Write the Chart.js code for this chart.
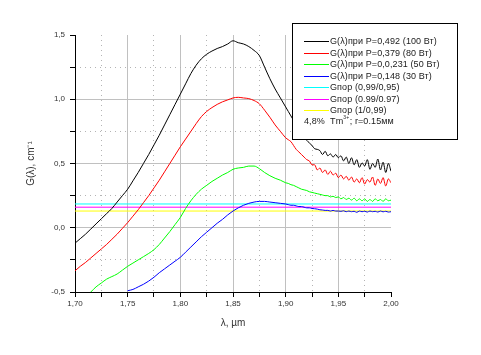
<!DOCTYPE html>
<html><head><meta charset="utf-8">
<script src="https://cdn.jsdelivr.net/npm/chart.js@4"></script>
<style>html,body{margin:0;padding:0;background:#fff;} canvas{display:block;}</style>
</head><body>
<canvas id="c" width="481" height="355"></canvas>
<script>
// ---- data ----
const lambda = [
1.700,1.705,1.710,1.715,1.720,1.725,1.730,1.735,1.740,1.745,
1.750,1.755,1.760,1.765,1.770,1.775,1.780,1.785,1.790,1.795,
1.800,1.805,1.810,1.815,1.820,1.825,1.830,1.835,1.840,1.845,
1.850,1.855,1.860,1.865,1.870,1.875,1.880,1.885,1.890,1.895,
1.9000,1.9025,1.9050,1.9075,1.9100,1.9125,1.9150,1.9175,1.9200,1.9225,
1.9250,1.9275,1.9300,1.9325,1.9350,1.9375,1.9400,1.9425,1.9450,1.9475,
1.9500,1.9525,1.9550,1.9575,1.9600,1.9625,1.9650,1.9675,1.9700,1.9725,
1.9750,1.9775,1.9800,1.9825,1.9850,1.9875,1.9900,1.9925,1.9950,1.9975,
2.0000];

const g100W = [
-0.12,-0.085,-0.05,-0.01,0.03,0.07,0.11,0.15,0.20,0.25,
0.30,0.365,0.43,0.50,0.57,0.645,0.72,0.80,0.88,0.96,
1.04,1.12,1.20,1.265,1.315,1.35,1.375,1.395,1.41,1.43,
1.455,1.44,1.43,1.41,1.38,1.34,1.25,1.16,1.08,1.01,
0.94,0.905,0.87,0.835,0.80,0.77,0.74,0.71,0.68,0.66,
0.64,0.615,0.61,0.60,0.57,0.595,0.56,0.575,0.55,0.57,
0.545,0.56,0.52,0.55,0.50,0.545,0.49,0.53,0.47,0.505,
0.48,0.53,0.455,0.50,0.47,0.535,0.45,0.51,0.43,0.50,
0.44];

const g80W = [
-0.335,-0.30,-0.27,-0.235,-0.20,-0.165,-0.13,-0.09,-0.05,-0.005,
0.04,0.09,0.14,0.195,0.25,0.31,0.37,0.435,0.50,0.565,
0.63,0.69,0.75,0.81,0.865,0.905,0.935,0.96,0.98,0.995,
1.01,1.015,1.01,1.005,0.99,0.965,0.915,0.86,0.80,0.75,
0.70,0.685,0.67,0.64,0.61,0.59,0.57,0.55,0.53,0.52,
0.49,0.49,0.45,0.465,0.43,0.45,0.415,0.44,0.41,0.425,
0.39,0.41,0.38,0.40,0.37,0.395,0.355,0.38,0.35,0.39,
0.34,0.375,0.355,0.395,0.33,0.38,0.345,0.39,0.325,0.38,
0.35];

const g50W = [
null,null,null,-0.50,-0.46,-0.43,-0.40,-0.38,-0.36,-0.33,
-0.30,-0.275,-0.25,-0.225,-0.20,-0.17,-0.13,-0.08,-0.03,0.025,
0.08,0.15,0.21,0.26,0.30,0.33,0.36,0.385,0.41,0.43,
0.455,0.465,0.47,0.48,0.48,0.46,0.43,0.405,0.385,0.37,
0.35,0.345,0.335,0.33,0.32,0.31,0.30,0.295,0.29,0.28,
0.275,0.27,0.265,0.26,0.255,0.25,0.25,0.24,0.245,0.235,
0.24,0.225,0.235,0.22,0.23,0.215,0.23,0.21,0.225,0.21,
0.225,0.205,0.22,0.205,0.225,0.21,0.22,0.205,0.225,0.21,
0.215];

const g30W = [
null,null,null,null,null,null,null,null,null,null,
-0.49,-0.48,-0.46,-0.44,-0.415,-0.385,-0.35,-0.32,-0.29,-0.26,
-0.23,-0.19,-0.15,-0.11,-0.07,-0.035,0.00,0.035,0.065,0.10,
0.13,0.155,0.175,0.19,0.20,0.205,0.205,0.20,0.195,0.19,
0.185,0.18,0.175,0.175,0.17,0.165,0.165,0.16,0.155,0.155,
0.15,0.148,0.145,0.14,0.138,0.135,0.135,0.13,0.135,0.13,
0.13,0.128,0.132,0.125,0.13,0.125,0.128,0.12,0.13,0.125,
0.128,0.122,0.13,0.125,0.128,0.122,0.13,0.124,0.128,0.122,
0.125];

const thresholdX = [1.70, 2.00];
const thresholds = [0.185, 0.16, 0.13];

const seriesLabels = [
'G(λ)при P=0,492 (100 Вт)',
'G(λ)при P=0,379 (80 Вт)',
'G(λ)при P=0,0,231 (50 Вт)',
'G(λ)при P=0,148 (30 Вт)',
'Gпор (0,99/0,95)',
'Gпор (0.99/0.97)',
'Gпор (1/0,99)'];
const seriesColors = ['#000000','#ff0000','#00ff00','#0000ff','#00ffff','#ff00ff','#ffff00'];
const noteText = ['4,8%  Tm', '3+', '; r=0.15мм'];

const xTickLabels = ['1,70','1,75','1,80','1,85','1,90','1,95','2,00'];
const yTickLabels = ['-0,5','0,0','0,5','1,0','1,5'];
const xTitle = 'λ, µm';
const yTitle = 'G(λ), cm⁻¹';

// ---- build ----
function pairs(xs, ys){ return xs.map((x,i)=>({x:x, y:ys[i]})).filter(p=>p.y!==null); }
const curves = [g100W, g80W, g50W, g30W];
const datasets = [];
curves.forEach((c,i)=>datasets.push({label:seriesLabels[i], data:pairs(lambda,c), borderColor:seriesColors[i], borderWidth:1, pointRadius:0, fill:false, cubicInterpolationMode:'monotone'}));
thresholds.forEach((t,i)=>datasets.push({label:seriesLabels[4+i], data:thresholdX.map(x=>({x:x,y:t})), borderColor:seriesColors[4+i], borderWidth:1, pointRadius:0, fill:false}));

const TR = 'rgba(0,0,0,0)';
const tickFont = {family:'"Liberation Sans", Arial, sans-serif', size:8};
const titleFont = {family:'"Liberation Sans", Arial, sans-serif', size:10};

const legendPlugin = {
  id:'boxLegend',
  afterDraw(chart){
    const ctx = chart.ctx;
    ctx.save();
    ctx.fillStyle = '#fff';
    ctx.fillRect(292, 23, 166, 117);
    ctx.strokeStyle = '#000';
    ctx.lineWidth = 1;
    ctx.strokeRect(292.5, 23.5, 165, 116);
    ctx.font = '9px "Liberation Sans", Arial, sans-serif';
    ctx.textBaseline = 'middle';
    ctx.textAlign = 'left';
    try { ctx.letterSpacing = '0.1px'; } catch(e){}
    chart.data.datasets.forEach((ds,i)=>{
      const y = Math.round(41 + i*11.57) + 0.5;
      ctx.strokeStyle = ds.borderColor;
      ctx.beginPath(); ctx.moveTo(304, y); ctx.lineTo(329, y); ctx.stroke();
      ctx.fillStyle = '#1a1a1a';
      ctx.fillText(ds.label, 330, y);
    });
    const y = 41 + 7*11.57;
    ctx.fillStyle = '#1a1a1a';
    let x = 304;
    ctx.fillText(noteText[0], x, y); x += ctx.measureText(noteText[0]).width;
    ctx.font = '5px "Liberation Sans", Arial, sans-serif';
    ctx.fillText(noteText[1], x, y-4); x += ctx.measureText(noteText[1]).width + 0.5;
    ctx.font = '9px "Liberation Sans", Arial, sans-serif';
    ctx.fillText(noteText[2], x, y);
    ctx.restore();
  }
};

new Chart(document.getElementById('c'), {
  type:'line',
  data:{datasets:datasets},
  plugins:[legendPlugin],
  options:{
    responsive:false, animation:false, events:[],
    layout:{padding:{left:0, right:90, top:35, bottom:0}},
    plugins:{legend:{display:false}, tooltip:{enabled:false}, title:{display:false}},
    scales:{
      x:{type:'linear', position:'bottom', min:1.70, max:2.00,
        ticks:{stepSize:0.025, autoSkip:false, maxRotation:0, minRotation:0, padding:2, color:'#333', font:tickFont,
          callback:(v,i)=> i%2===0 ? xTickLabels[i/2] : ''},
        grid:{color:(c)=> (c.index%2===0 && c.index>0 && c.index<12) ? '#c0c0c0' : TR, tickColor:'#000', tickLength:5, lineWidth:1},
        border:{color:'#000', width:1},
        title:{display:true, text:xTitle, color:'#333', font:titleFont, padding:{top:0,bottom:26}},
        afterFit:(s)=>{ s.height = 63; }
      },
      x2:{type:'linear', position:'top', min:1.70, max:2.00,
        ticks:{display:false, stepSize:0.025},
        grid:{drawTicks:false, color:(c)=> c.index%2===1 ? '#b4b4b4' : TR, lineWidth:1},
        border:{display:false, dash:[1,4]}
      },
      y:{type:'linear', position:'left', min:-0.5, max:1.5,
        ticks:{stepSize:0.25, autoSkip:false, padding:5, color:'#333', font:tickFont,
          callback:(v,i)=> i%2===0 ? yTickLabels[i/2] : ''},
        grid:{color:(c)=> (c.index%2===0 && c.index>0 && c.index<8) ? '#c0c0c0' : TR, tickColor:'#000', tickLength:5, lineWidth:1},
        border:{color:'#000', width:1},
        title:{display:true, text:yTitle, color:'#333', font:titleFont, padding:{top:25,bottom:0}},
        afterFit:(s)=>{ s.width = 75; }
      },
      y2:{type:'linear', position:'right', min:-0.5, max:1.5,
        ticks:{display:false, stepSize:0.25},
        grid:{drawTicks:false, color:(c)=> c.index%2===1 ? '#b4b4b4' : TR, lineWidth:1},
        border:{display:false, dash:[1,4]}
      }
    }
  }
});
</script>
</body></html>
